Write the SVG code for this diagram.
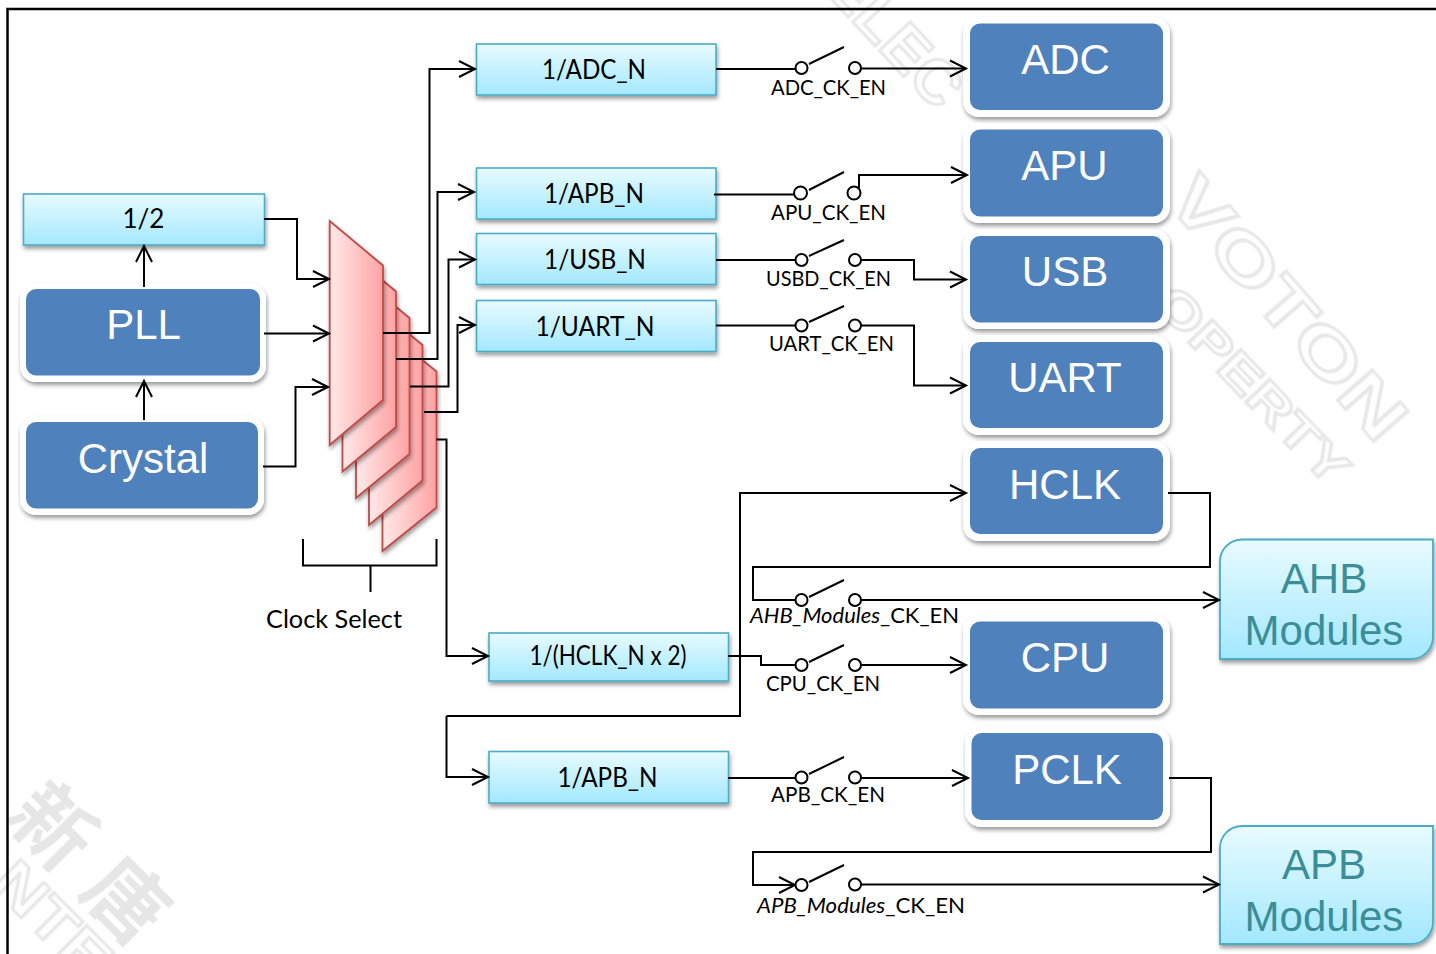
<svg xmlns="http://www.w3.org/2000/svg" width="1436" height="954" viewBox="0 0 1436 954">
<style>
.c{fill:none;stroke:#000;stroke-width:2}
.a{marker-end:url(#arr)}
.sw{fill:#fff;stroke:#000;stroke-width:2}
.div{fill:url(#cy);stroke:#4bacc6;stroke-width:1.6;filter:url(#sh)}
.wh{fill:#fff;filter:url(#sh)}
.bl{fill:#4f81bd}
.mod{fill:url(#cy);stroke:#4bacc6;stroke-width:1.8;filter:url(#sh)}
.mx{fill:url(#rd);stroke:#be4b48;stroke-width:1.8;filter:url(#sh)}
.t1{font:26px Lato,"Open Sans",sans-serif;fill:#000;text-anchor:middle}
.lb{font:22px Lato,"Open Sans",sans-serif;fill:#000}
.i{font-style:italic}
.big{font:42px "Liberation Sans",Arial,sans-serif;fill:#fff;text-anchor:middle}
.modt{font:42px "Liberation Sans",Arial,sans-serif;fill:#3b8e97;text-anchor:middle}
.wm{font-family:"Liberation Sans",sans-serif;font-weight:bold;fill:#fff;stroke:#e8e8e8;stroke-width:3;text-anchor:middle;filter:url(#bl)}
.wc{font-family:"Noto Sans CJK TC",sans-serif;font-weight:bold;fill:#e6e6e6;text-anchor:middle;filter:url(#bl)}
</style>
<defs>
<linearGradient id="cy" x1="0" y1="0" x2="0" y2="1"><stop offset="0" stop-color="#e8fbff"/><stop offset="1" stop-color="#a3e8ff"/></linearGradient>
<linearGradient id="rd" x1="0" y1="0" x2="1" y2="0"><stop offset="0" stop-color="#ffe9e9"/><stop offset="1" stop-color="#ffa3a3"/></linearGradient>
<filter id="sh" x="-10%" y="-10%" width="125%" height="125%"><feDropShadow dx="1" dy="3" stdDeviation="2" flood-color="#000" flood-opacity=".4"/></filter>
<filter id="bl"><feGaussianBlur stdDeviation=".7"/></filter>
<marker id="arr" markerUnits="userSpaceOnUse" markerWidth="24" markerHeight="24" refX="19" refY="12" orient="auto" overflow="visible"><path d="M3,4 L19,12 L3,20" fill="none" stroke="#000" stroke-width="2"/></marker>
</defs>
<rect width="1436" height="954" fill="#fff"/>
<g id="watermark">
<text class="wm" font-size="66" transform="translate(1288,308) rotate(49)" y="23" textLength="325" lengthAdjust="spacingAndGlyphs">VOTON</text>
<text class="wm" font-size="48" transform="translate(1253,385) rotate(46)" y="17" textLength="255" lengthAdjust="spacingAndGlyphs">OPERTY</text>
<text class="wm" font-size="62" transform="translate(895,35) rotate(47)" y="22" textLength="170" lengthAdjust="spacingAndGlyphs">ELEC</text>
<text class="wc" font-size="80" letter-spacing="24" transform="translate(98,872) rotate(45)" y="28">新唐</text>
<text class="wm" font-size="60" transform="translate(53,920) rotate(45)" y="21" textLength="140" lengthAdjust="spacingAndGlyphs">NTE</text>
</g>
<path id="frame" d="M7.500,954 V9 H1436" fill="none" stroke="#000" stroke-width="2.500"/>
<g id="clock-select">
<path class="mx" d="M382.500,328 L436.500,371.500 V507.500 L382.500,551 Z"/>
<path class="mx" d="M369,301 L422.500,345 V480.500 L369,525 Z"/>
<path class="mx" d="M356,274 L409.500,318 V454 L356,498 Z"/>
<path class="mx" d="M342.500,247 L396,291.500 V427 L342.500,471.500 Z"/>
<path class="mx" d="M329.700,221 L383,265.500 V400 L329.700,445 Z"/>
</g>
<g id="div2"><rect class="div" x="23.500" y="194" width="241" height="51"/><text class="t1" x="143.500" y="228">1/2</text></g>
<g id="pll"><rect class="wh" x="20" y="283" width="246" height="99" rx="16"/><rect class="bl" x="26" y="289" width="234" height="86.500" rx="10"/><text class="big" x="143.500" y="339">PLL</text></g>
<g id="crystal"><rect class="wh" x="20" y="416" width="244" height="99" rx="16"/><rect class="bl" x="26" y="422" width="232" height="86.500" rx="10"/><text class="big" x="143" y="473">Crystal</text></g>
<g id="div-adc"><rect class="div" x="476.500" y="44" width="239.500" height="51"/><text class="t1" x="594" y="79" textLength="104" lengthAdjust="spacingAndGlyphs">1/ADC_N</text></g>
<g id="div-apb"><rect class="div" x="476.500" y="168" width="239.500" height="51"/><text class="t1" x="594" y="203" textLength="100" lengthAdjust="spacingAndGlyphs">1/APB_N</text></g>
<g id="div-usb"><rect class="div" x="476.500" y="233.500" width="239.500" height="51"/><text class="t1" x="595" y="269" textLength="102" lengthAdjust="spacingAndGlyphs">1/USB_N</text></g>
<g id="div-uart"><rect class="div" x="476.500" y="300.500" width="239.500" height="51"/><text class="t1" x="595" y="336" textLength="119" lengthAdjust="spacingAndGlyphs">1/UART_N</text></g>
<g id="div-hclk"><rect class="div" x="489" y="633" width="239.500" height="48"/><text class="t1" x="608" y="665" textLength="157" lengthAdjust="spacingAndGlyphs">1/(HCLK_N x 2)</text></g>
<g id="div-apb2"><rect class="div" x="489" y="751.500" width="239.500" height="51.500"/><text class="t1" x="607.500" y="787" textLength="100" lengthAdjust="spacingAndGlyphs">1/APB_N</text></g>
<g id="adc"><rect class="wh" x="963" y="17" width="207" height="100" rx="16"/><rect class="bl" x="970" y="23.500" width="193" height="86.500" rx="10"/><text class="big" x="1065.500" y="74">ADC</text></g>
<g id="apu"><rect class="wh" x="963" y="123" width="207" height="100" rx="16"/><rect class="bl" x="970" y="129.500" width="193" height="87" rx="10"/><text class="big" x="1064.500" y="180">APU</text></g>
<g id="usb"><rect class="wh" x="963" y="229" width="207" height="100" rx="16"/><rect class="bl" x="970" y="236" width="193" height="86.500" rx="10"/><text class="big" x="1065" y="286">USB</text></g>
<g id="uart"><rect class="wh" x="963" y="335" width="207" height="100" rx="16"/><rect class="bl" x="970" y="342" width="193" height="86" rx="10"/><text class="big" x="1065" y="392">UART</text></g>
<g id="hclk"><rect class="wh" x="963" y="441" width="207" height="100" rx="16"/><rect class="bl" x="970" y="448" width="193" height="86" rx="10"/><text class="big" x="1065" y="499">HCLK</text></g>
<g id="cpu"><rect class="wh" x="963" y="615" width="207" height="100" rx="16"/><rect class="bl" x="970" y="621.500" width="193" height="87" rx="10"/><text class="big" x="1065" y="672">CPU</text></g>
<g id="pclk"><rect class="wh" x="965" y="727" width="205" height="100" rx="16"/><rect class="bl" x="971.500" y="733" width="191.500" height="87" rx="10"/><text class="big" x="1067" y="784">PCLK</text></g>
<g id="ahb"><path class="mod" d="M1242,539.500 H1433 V637 A22,22 0 0 1 1411,659 H1220 V561.500 A22,22 0 0 1 1242,539.500 Z"/><text class="modt" x="1324" y="593">AHB</text><text class="modt" x="1324" y="645">Modules</text></g>
<g id="apb"><path class="mod" d="M1242,826 H1433 V922 A22,22 0 0 1 1411,944 H1220 V848 A22,22 0 0 1 1242,826 Z"/><text class="modt" x="1324" y="879">APB</text><text class="modt" x="1324" y="931">Modules</text></g>
<g id="connectors">
<path class="c a" d="M264,219 H297 V279 H329"/>
<path class="c a" d="M264,333.500 H329"/>
<path class="c a" d="M263,466.500 H295.500 V387 H328"/>
<path class="c a" d="M144,287 V246"/>
<path class="c a" d="M144,420 V381"/>
<path class="c" d="M303,539 V565.500 H436.500 V539 M370.500,565.500 V592"/>
<path class="c a" d="M383,333 H429.500 V69 H475"/>
<path class="c a" d="M396,359 H437.500 V192 H474"/>
<path class="c a" d="M410,386.500 H448.500 V259.500 H475"/>
<path class="c a" d="M424,412 H457.500 V325 H475"/>
<path class="c a" d="M436.500,439.500 H446.500 V656 H488"/>
<path class="c a" d="M446.500,716 V777 H488"/>
<path class="c a" d="M446.500,716 H740 V493 H966"/>
<path class="c" d="M716,69 H796"/>
<path class="c a" d="M860,68.500 H966"/>
<path class="c" d="M714,194.500 H795"/>
<path class="c a" d="M859,190 V175 H967"/>
<path class="c" d="M716,260 H796"/>
<path class="c a" d="M860,260 H914 V279.500 H966"/>
<path class="c" d="M716,325.500 H796"/>
<path class="c a" d="M860,325.500 H914 V385.500 H966"/>
<path class="c" d="M1168,493 H1210 V567 H753 V600 H796"/>
<path class="c a" d="M860,600 H1219"/>
<path class="c" d="M728,656 H761 V665 H796"/>
<path class="c a" d="M860,665 H966"/>
<path class="c" d="M728,778 H796"/>
<path class="c a" d="M860,778 H968"/>
<path class="c a" d="M1169,778 H1211 V852 H753 V885 H795"/>
<path class="c a" d="M860,884.500 H1219"/>
</g>
<g id="switches">
<path class="c" d="M809,64 L844,47 M809,190 L844,172 M809,256 L844,240 M809,322 L844,306 M809,597 L844,580 M809,662 L844,645 M809,774 L844,757 M809,882 L844,865"/>
<circle class="sw" cx="801.500" cy="68" r="6"/><circle class="sw" cx="855" cy="68" r="6"/>
<circle class="sw" cx="800.500" cy="193" r="6.500"/><circle class="sw" cx="854" cy="193" r="6.500"/>
<circle class="sw" cx="801.500" cy="260" r="6"/><circle class="sw" cx="855" cy="260" r="6"/>
<circle class="sw" cx="801.500" cy="325.500" r="6"/><circle class="sw" cx="855" cy="325.500" r="6"/>
<circle class="sw" cx="801.500" cy="600" r="6"/><circle class="sw" cx="855" cy="600" r="6"/>
<circle class="sw" cx="801.500" cy="665" r="6"/><circle class="sw" cx="855" cy="665" r="6"/>
<circle class="sw" cx="801.500" cy="777.500" r="6"/><circle class="sw" cx="855" cy="777.500" r="6"/>
<circle class="sw" cx="801.500" cy="885" r="6"/><circle class="sw" cx="855" cy="884.500" r="6"/>
</g>
<g id="labels">
<text class="lb" x="771" y="95" textLength="115" lengthAdjust="spacingAndGlyphs">ADC_CK_EN</text>
<text class="lb" x="771" y="220" textLength="115" lengthAdjust="spacingAndGlyphs">APU_CK_EN</text>
<text class="lb" x="766" y="286" textLength="125" lengthAdjust="spacingAndGlyphs">USBD_CK_EN</text>
<text class="lb" x="769" y="351" textLength="125" lengthAdjust="spacingAndGlyphs">UART_CK_EN</text>
<text class="lb" x="750" y="623" textLength="209" lengthAdjust="spacingAndGlyphs"><tspan class="i">AHB_Modules</tspan>_CK_EN</text>
<text class="lb" x="766" y="691" textLength="114" lengthAdjust="spacingAndGlyphs">CPU_CK_EN</text>
<text class="lb" x="771" y="802" textLength="114" lengthAdjust="spacingAndGlyphs">APB_CK_EN</text>
<text class="lb" x="757" y="913" textLength="208" lengthAdjust="spacingAndGlyphs"><tspan class="i">APB_Modules</tspan>_CK_EN</text>
<text class="lb" style="font-size:25px" x="266" y="628" textLength="136" lengthAdjust="spacingAndGlyphs">Clock Select</text>
</g>
</svg>
